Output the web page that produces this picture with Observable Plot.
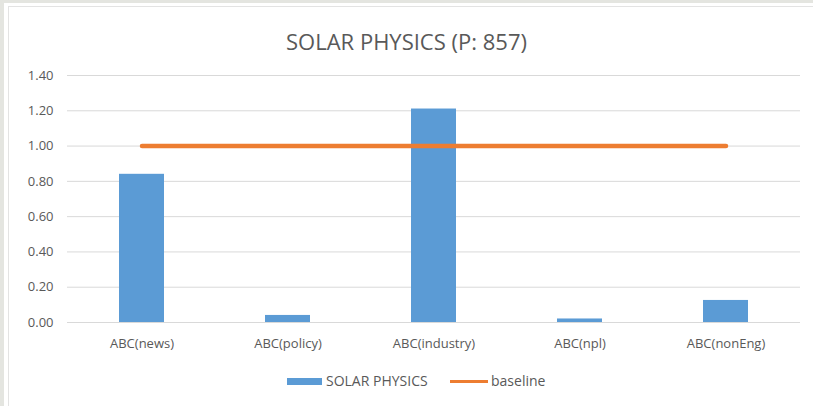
<!DOCTYPE html>
<html>
<head>
<meta charset="utf-8">
<script src="https://cdn.jsdelivr.net/npm/d3@7"></script>
<script src="https://cdn.jsdelivr.net/npm/@observablehq/plot@0.6"></script>
<style>
  html, body { margin: 0; padding: 0; }
  body { width: 813px; height: 406px; background: #e4e5e0; position: relative; overflow: hidden; font-family: "Open Sans", sans-serif; }
  #panel { position: absolute; left: 4px; top: 3px; width: 809px; height: 403px; background: #fff; }
  #inner { position: absolute; left: 8px; top: 6px; width: 805px; height: 400px; border-left: 1px solid #e3e3e3; border-top: 1px solid #e3e3e3; box-sizing: border-box; }
  #title { position: absolute; left: 0; width: 813px; top: 27px; text-align: center; font-size: 22px; color: #595959; line-height: 28px; }
  #chart { position: absolute; left: 0; top: 0; }
  #legend { position: absolute; top: 371px; left: 0; width: 813px; font-size: 14px; color: #595959; }
  .sw { position: absolute; }
  .lt { position: absolute; top: 0; line-height: 20px; }
</style>
</head>
<body>
<div id="panel"></div>
<div id="inner"></div>
<div id="title">SOLAR PHYSICS (P: 857)</div>
<div id="chart"></div>
<div id="legend">
  <div class="sw" style="left:287px; top:7px; width:35px; height:7px; background:#5b9bd5"></div>
  <div class="lt" style="left:326px">SOLAR PHYSICS</div>
  <div class="sw" style="left:450px; top:9px; width:38px; height:3px; background:#ed7d31"></div>
  <div class="lt" style="left:491px">baseline</div>
</div>
<script>
const categories = ["ABC(news)", "ABC(policy)", "ABC(industry)", "ABC(npl)", "ABC(nonEng)"];
const solarPhysics = [0.84, 0.04, 1.21, 0.02, 0.125];
const baseline = [1, 1, 1, 1, 1];
const yTicks = [0, 0.2, 0.4, 0.6, 0.8, 1.0, 1.2, 1.4];

const rows = categories.map((c, i) => ({category: c, value: solarPhysics[i], base: baseline[i]}));

const chart = Plot.plot({
  width: 813,
  height: 360,
  marginTop: 75,
  marginBottom: 38,
  marginLeft: 67,
  marginRight: 13,
  style: {fontFamily: "Open Sans, sans-serif", fontSize: "13px", color: "#595959", background: "transparent", overflow: "visible"},
  x: {domain: categories, paddingInner: 0.69, paddingOuter: 0.345, label: null},
  y: {domain: [0, 1.4], ticks: yTicks, label: null},
  marks: [
    Plot.gridY(yTicks, {stroke: "#d9d9d9", strokeOpacity: 1, strokeWidth: 1}),
    Plot.axisY({ticks: yTicks, tickSize: 0, tickPadding: 14, tickFormat: d3.format(".2f"), label: null, fill: "#595959"}),
    Plot.axisX({tickSize: 0, tickPadding: 16, label: null, fill: "#595959"}),
    Plot.barY(rows, {x: "category", y: "value", fill: "#5b9bd5"}),
    Plot.lineY(rows, {x: "category", y: "base", stroke: "#ed7d31", strokeWidth: 4.5, strokeLinecap: "round"})
  ]
});
document.getElementById("chart").appendChild(chart);
</script>
</body>
</html>
